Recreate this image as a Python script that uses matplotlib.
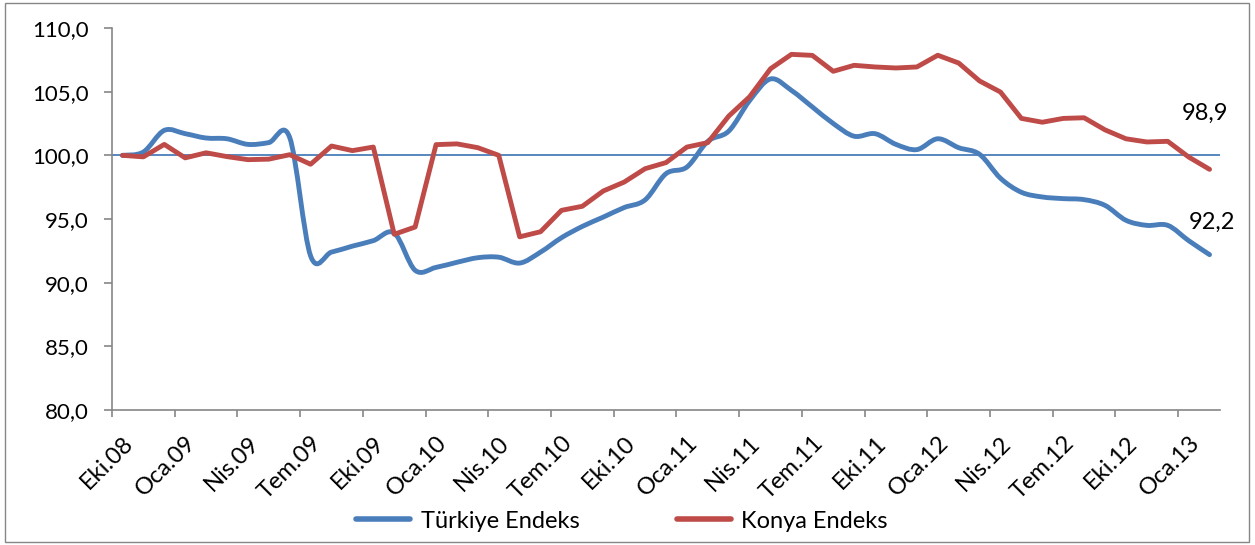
import matplotlib
matplotlib.use("Agg")
import matplotlib.pyplot as plt
import numpy as np
from matplotlib.path import Path
from matplotlib.patches import PathPatch, Rectangle
from matplotlib.lines import Line2D

months = ["Eki.08","Kas.08","Ara.08","Oca.09","Şub.09","Mar.09","Nis.09","May.09","Haz.09",
          "Tem.09","Ağu.09","Eyl.09","Eki.09","Kas.09","Ara.09","Oca.10","Şub.10","Mar.10",
          "Nis.10","May.10","Haz.10","Tem.10","Ağu.10","Eyl.10","Eki.10","Kas.10","Ara.10",
          "Oca.11","Şub.11","Mar.11","Nis.11","May.11","Haz.11","Tem.11","Ağu.11","Eyl.11",
          "Eki.11","Kas.11","Ara.11","Oca.12","Şub.12","Mar.12","Nis.12","May.12","Haz.12",
          "Tem.12","Ağu.12","Eyl.12","Eki.12","Kas.12","Ara.12","Oca.13","Şub.13"]

turkiye = [100.0, 100.26, 101.96, 101.7, 101.36, 101.3, 100.86, 101.0, 101.4,
           92.1, 92.4, 92.87, 93.3, 93.9, 90.97, 91.2, 91.6, 91.96,
           92.0, 91.54, 92.4, 93.53, 94.42, 95.15, 95.9, 96.5, 98.56,
           99.08, 101.1, 101.9, 104.3, 106.0, 105.1, 103.8, 102.5, 101.5,
           101.7, 100.86, 100.45, 101.3, 100.6, 100.08, 98.2, 97.1, 96.73,
           96.6, 96.52, 96.07, 94.9, 94.5, 94.5, 93.3, 92.2]

konya = [100.0, 99.88, 100.86, 99.8, 100.2, 99.9, 99.66, 99.7, 100.05,
         99.3, 100.73, 100.37, 100.65, 93.8, 94.37, 100.84, 100.9, 100.6,
         100.0, 93.6, 94.0, 95.68, 96.0, 97.2, 97.9, 98.95, 99.43,
         100.65, 101.0, 103.08, 104.6, 106.8, 107.93, 107.85, 106.6, 107.07,
         106.94, 106.86, 106.94, 107.86, 107.25, 105.84, 104.97, 102.9, 102.6,
         102.9, 102.95, 102.0, 101.3, 101.05, 101.1, 99.87, 98.9]

baseline = 100.0
yticks = [80, 85, 90, 95, 100, 105, 110]

blue = "#4A7EBB"
red = "#BE4B48"
gray = "#868686"

plt.rcParams['font.family'] = ['Lato', 'DejaVu Sans']

W, H = 1255, 545
fig = plt.figure(figsize=(W/100, H/100), dpi=100)
ax = fig.add_axes([112/W, 1-410/H, (1220-112)/W, (410-28)/H])

x = np.arange(len(months))

# smoothed Türkiye line (Bezier, like Excel's smoothed line)
pts = np.column_stack([x, np.array(turkiye)])
verts = [tuple(pts[0])]
codes = [Path.MOVETO]
n = len(pts)
for i in range(n-1):
    p0 = pts[i-1] if i > 0 else pts[i]
    p1 = pts[i]
    p2 = pts[i+1]
    p3 = pts[i+2] if i+2 < n else pts[i+1]
    c1 = p1 + (p2 - p0)/6.0
    c2 = p2 - (p3 - p1)/6.0
    verts += [tuple(c1), tuple(c2), tuple(p2)]
    codes += [Path.CURVE4]*3
path = Path(verts, codes)
ax.add_patch(PathPatch(path, fill=False, edgecolor=blue, lw=3.5, capstyle='round', joinstyle='round', zorder=3))

ax.plot(x, konya, color=red, lw=3.5, solid_capstyle='round', solid_joinstyle='round', zorder=4)
ax.axhline(baseline, color=blue, lw=1.3, zorder=2)

ax.set_xlim(-0.5, len(months)-0.5)
ax.set_ylim(80, 110)

ax.set_yticks(yticks)
ax.set_yticklabels([f"{v:.1f}".replace('.', ',') for v in yticks], fontsize=16)
ax.tick_params(axis='y', length=6, color=gray, width=1.2, pad=11, labelcolor='black')

lab_idx = list(range(0, len(months), 3))
ax.set_xticks(lab_idx)
ax.set_xticklabels([months[i] for i in lab_idx], rotation=45, ha='right', va='top',
                   rotation_mode='anchor', fontsize=17)
ax.tick_params(axis='x', which='major', length=0, pad=16)
ax.set_xticks(np.arange(-0.5, len(months)-0.5, 3), minor=True)
ax.tick_params(axis='x', which='minor', length=5, color=gray, width=1.2)

for s in ['top', 'right']:
    ax.spines[s].set_visible(False)
for s in ['left', 'bottom']:
    ax.spines[s].set_color(gray)
    ax.spines[s].set_linewidth(1.2)

ax.annotate(f"{konya[-1]:.1f}".replace('.', ','), (x[-1], konya[-1]), xytext=(-3.6, 40),
            textcoords='offset points', ha='center', va='center', fontsize=17)
ax.annotate(f"{turkiye[-1]:.1f}".replace('.', ','), (x[-1], turkiye[-1]), xytext=(1.4, 23),
            textcoords='offset points', ha='center', va='center', fontsize=17)

handles = [Line2D([], [], color=blue, lw=4.0, solid_capstyle='round'),
           Line2D([], [], color=red, lw=4.0, solid_capstyle='round')]
fig.legend(handles, ["Türkiye Endeks", "Konya Endeks"], loc='center', ncol=2,
           bbox_to_anchor=(622/W, 1-521/H), frameon=False, fontsize=17,
           handlelength=2.3, columnspacing=4.1, handletextpad=0.45)

fig.patches.append(Rectangle((5/W, 3/H), (1249-5)/W, (542-3)/H, transform=fig.transFigure,
                             fill=False, edgecolor=gray, lw=1))

fig.savefig("out.png", dpi=100)
